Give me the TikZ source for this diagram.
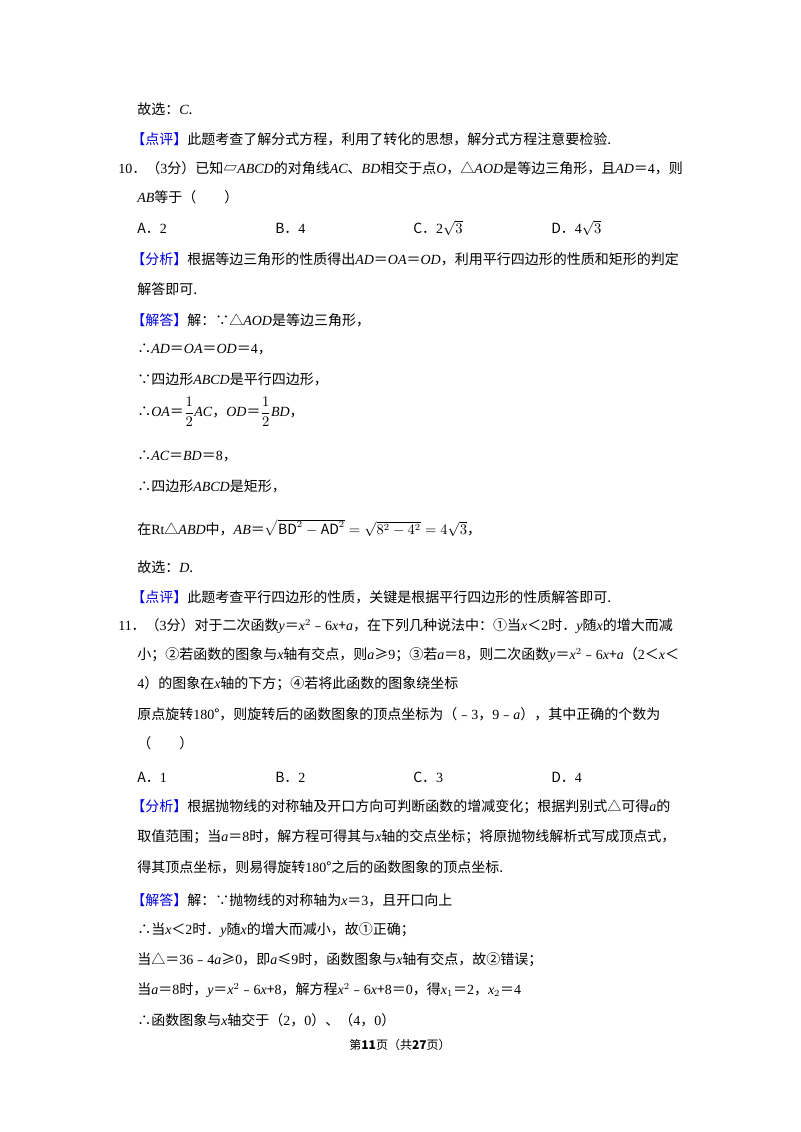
\documentclass[tikz,border=0pt]{standalone}
\usepackage{fontspec}
\setmainfont{Noto Sans CJK SC}
\newfontfamily\lat{Liberation Serif}
\newcommand\vi[1]{{\lat\itshape #1}}
\newcommand\ro[1]{{\lat #1}}
\definecolor{tagblue}{RGB}{0,0,220}
\newcommand\tag[1]{\textcolor{tagblue}{【#1】}}
\begin{document}
\begin{tikzpicture}[x=0.75pt,y=-0.75pt,
  ln/.style={anchor=west,inner sep=0pt,font=\fontsize{10.5}{12}\selectfont}]
\useasboundingbox (0,0) rectangle (800,1132);
\node[ln] (l1) at (137,109) {故选：\vi{C}.};
\node[ln] (l2) at (131,139) {\tag{点评}此题考查了解分式方程，利用了转化的思想，解分式方程注意要检验.};
\node[ln] (l3) at (118,168) {\ro{10}．（\ro{3}分）已知▱\vi{ABCD}的对角线\vi{AC}、\vi{BD}相交于点\vi{O}，△\vi{AOD}是等边三角形，且\vi{AD}＝\ro{4}，则};
\node[ln] (l4) at (137,197) {\vi{AB}等于（\qquad）};
\node[ln] (a1) at (137,228) {A．\ro{2}};
\node[ln] (a2) at (275,228) {B．\ro{4}};
\node[ln] (a3) at (413,228) {C．\ro{2}$\sqrt{3}$};
\node[ln] (a4) at (551,228) {D．\ro{4}$\sqrt{3}$};
\node[ln] (l6) at (131,259) {\tag{分析}根据等边三角形的性质得出\vi{AD}＝\vi{OA}＝\vi{OD}，利用平行四边形的性质和矩形的判定};
\node[ln] (l7) at (137,289) {解答即可.};
\node[ln] (l8) at (131,320) {\tag{解答}解：∵△\vi{AOD}是等边三角形，};
\node[ln] (l9) at (137,349) {∴\vi{AD}＝\vi{OA}＝\vi{OD}＝\ro{4}，};
\node[ln] (l10) at (137,379) {∵四边形\vi{ABCD}是平行四边形，};
\node[ln] (l11) at (137,412) {∴\vi{OA}＝$\displaystyle\frac{1}{2}$\vi{AC}，\vi{OD}＝$\displaystyle\frac{1}{2}$\vi{BD}，};
\node[ln] (l12) at (137,456) {∴\vi{AC}＝\vi{BD}＝\ro{8}，};
\node[ln] (l13) at (137,486) {∴四边形\vi{ABCD}是矩形，};
\node[ln] (l14) at (137,528) {在\ro{Rt}△\vi{ABD}中，\vi{AB}＝$\sqrt{\mathrm{BD}^2-\mathrm{AD}^2}=\sqrt{8^2-4^2}=4\sqrt{3}$，};
\node[ln] (l15) at (137,567) {故选：\vi{D}.};
\node[ln] (l16) at (131,597) {\tag{点评}此题考查平行四边形的性质，关键是根据平行四边形的性质解答即可.};
\node[ln] (l17) at (118,626) {\ro{11}．（\ro{3}分）对于二次函数\vi{y}＝\vi{x}$^2$﹣\ro{6}\vi{x}+\vi{a}，在下列几种说法中：①当\vi{x}＜\ro{2}时．\vi{y}随\vi{x}的增大而减};
\node[ln] (l18) at (137,655) {小；②若函数的图象与\vi{x}轴有交点，则\vi{a}≥\ro{9}；③若\vi{a}＝\ro{8}，则二次函数\vi{y}＝\vi{x}$^2$﹣\ro{6}\vi{x}+\vi{a}（\ro{2}＜\vi{x}＜};
\node[ln] (l19) at (137,684) {\ro{4}）的图象在\vi{x}轴的下方；④若将此函数的图象绕坐标};
\node[ln] (l20) at (137,714) {原点旋转\ro{180}°，则旋转后的函数图象的顶点坐标为（﹣\ro{3}，\ro{9}﹣\vi{a}），其中正确的个数为};
\node[ln] (l21) at (137,743) {（\qquad）};
\node[ln] (b1) at (137,777) {A．\ro{1}};
\node[ln] (b2) at (275,777) {B．\ro{2}};
\node[ln] (b3) at (413,777) {C．\ro{3}};
\node[ln] (b4) at (551,777) {D．\ro{4}};
\node[ln] (l23) at (131,807) {\tag{分析}根据抛物线的对称轴及开口方向可判断函数的增减变化；根据判别式△可得\vi{a}的};
\node[ln] (l24) at (137,837) {取值范围；当\vi{a}＝\ro{8}时，解方程可得其与\vi{x}轴的交点坐标；将原抛物线解析式写成顶点式，};
\node[ln] (l25) at (137,867) {得其顶点坐标，则易得旋转\ro{180}°之后的函数图象的顶点坐标.};
\node[ln] (l26) at (131,900) {\tag{解答}解：∵抛物线的对称轴为\vi{x}＝\ro{3}，且开口向上};
\node[ln] (l27) at (137,930) {∴当\vi{x}＜\ro{2}时．\vi{y}随\vi{x}的增大而减小，故①正确；};
\node[ln] (l28) at (137,960) {当△＝\ro{36}﹣\ro{4}\vi{a}≥\ro{0}，即\vi{a}≤\ro{9}时，函数图象与\vi{x}轴有交点，故②错误；};
\node[ln] (l29) at (137,990) {当\vi{a}＝\ro{8}时，\vi{y}＝\vi{x}$^2$﹣\ro{6}\vi{x}+\ro{8}，解方程\vi{x}$^2$﹣\ro{6}\vi{x}+\ro{8}＝\ro{0}，得\vi{x}$_1$＝\ro{2}，\vi{x}$_2$＝\ro{4}};
\node[ln] (l30) at (137,1020) {∴函数图象与\vi{x}轴交于（\ro{2}，\ro{0}）、（\ro{4}，\ro{0}）};
\node[anchor=center,inner sep=0pt,font=\fontsize{9}{10}\selectfont] (ft) at (400,1045) {第\textbf{11}页（共\textbf{27}页）};
\end{tikzpicture}
\end{document}
